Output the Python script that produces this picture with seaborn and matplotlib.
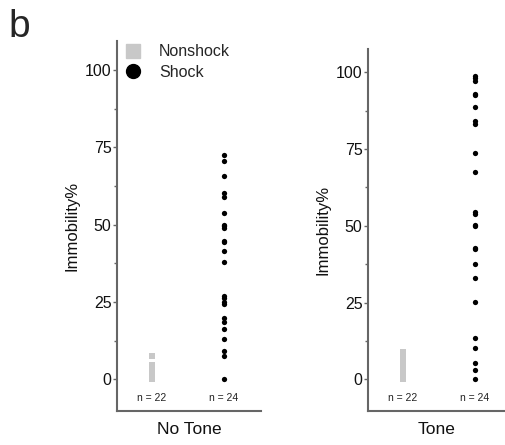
import matplotlib
matplotlib.use("Agg")
import matplotlib.pyplot as plt
from matplotlib.lines import Line2D
from matplotlib.ticker import MultipleLocator
import seaborn as sns
import pandas as pd

sns.set_style("white")
plt.rcParams['font.family'] = ['Liberation Sans', 'DejaVu Sans']

groups = ["Nonshock", "Shock"]
conditions = ["No Tone", "Tone"]
n_labels = ["n = 22", "n = 24"]

notone_nonshock = [0]*12 + [0.5, 1, 1.5, 2, 2.5, 3, 3.5, 4, 4.5, 7.5]
notone_shock = [72.5, 70.6, 65.7, 60.3, 59.0, 53.9, 49.8, 49.4, 48.9, 44.8, 44.3, 41.6,
                37.8, 26.9, 26.1, 25.1, 24.2, 19.9, 18.5, 16.1, 13.0, 9.0, 7.6, 0.0]
tone_nonshock = [0]*10 + [0.5, 1, 1.5, 2, 2.5, 3, 3.5, 4, 5, 6, 7, 8.8]
tone_shock = [98.9, 98.0, 97.2, 93.1, 92.6, 88.7, 84.3, 83.2, 73.6, 67.6, 54.4, 53.8,
              50.4, 50.0, 42.9, 42.4, 37.6, 33.0, 25.3, 13.5, 10.3, 5.4, 2.9, 0.2]

data = {
    "No Tone": (notone_nonshock, notone_shock),
    "Tone": (tone_nonshock, tone_shock),
}

grey = "#c8c8c8"
spine_c = "#666666"

fig = plt.figure(figsize=(5.06, 4.45), dpi=100)
axL = fig.add_axes([117/506, 1-410.7/445, 144/506, 370/445])
axR = fig.add_axes([368/506, 1-411/445, 138/506, 361.7/445])

for ax, cond, ylim, xr in [(axL, "No Tone", (-10.2, 109.5), 1.514), (axR, "Tone", (-10.3, 107.5), 1.43)]:
    ns, sh = data[cond]
    df = pd.DataFrame({"group": ["Nonshock"]*len(ns) + ["Shock"]*len(sh),
                       "val": list(ns) + list(sh)})
    sns.stripplot(data=df[df.group == "Nonshock"], x="group", y="val", order=groups,
                  jitter=False, marker="s", color=grey, size=4.2, linewidth=0, ax=ax)
    sns.stripplot(data=df[df.group == "Shock"], x="group", y="val", order=groups,
                  jitter=False, marker="o", color="black", size=3.8, linewidth=0, ax=ax)
    ax.set_xlim(-0.486, xr)
    ax.set_ylim(*ylim)
    for i, lab in enumerate(n_labels):
        ax.text(i, -6.2, lab, ha="center", va="center", fontsize=7.5, color="#222222")
    ax.set_xticks([])
    ax.set_xlabel(cond, fontsize=12.5, labelpad=8, color="#111111")
    ax.set_ylabel("Immobility%", fontsize=12, labelpad=4, color="#111111")
    ax.yaxis.set_major_locator(MultipleLocator(25))
    ax.yaxis.set_minor_locator(MultipleLocator(12.5))
    ax.set_yticks([0, 25, 50, 75, 100])
    ax.tick_params(axis="y", which="major", direction="out", length=3, width=1,
                   color=spine_c, labelsize=11.5, pad=1, left=True, labelcolor="#111111")
    ax.tick_params(axis="y", which="minor", direction="out", length=2, width=1,
                   color=spine_c, left=True)
    for s in ["top", "right"]:
        ax.spines[s].set_visible(False)
    for s in ["left", "bottom"]:
        ax.spines[s].set_color(spine_c)
        ax.spines[s].set_linewidth(1.5)

handles = [Line2D([], [], marker="s", color=grey, linestyle="none", markersize=10),
           Line2D([], [], marker="o", color="black", linestyle="none", markersize=10)]
axL.legend(handles, groups, loc="upper left", bbox_to_anchor=(-0.02, 1.02), frameon=False,
           fontsize=11.5, handletextpad=1.1, labelspacing=0.35, handlelength=1.0,
           borderaxespad=0.3)

fig.text(8/506, 1-27/445, "b", fontsize=28, ha="left", va="center")

fig.savefig("out.png", dpi=100)
